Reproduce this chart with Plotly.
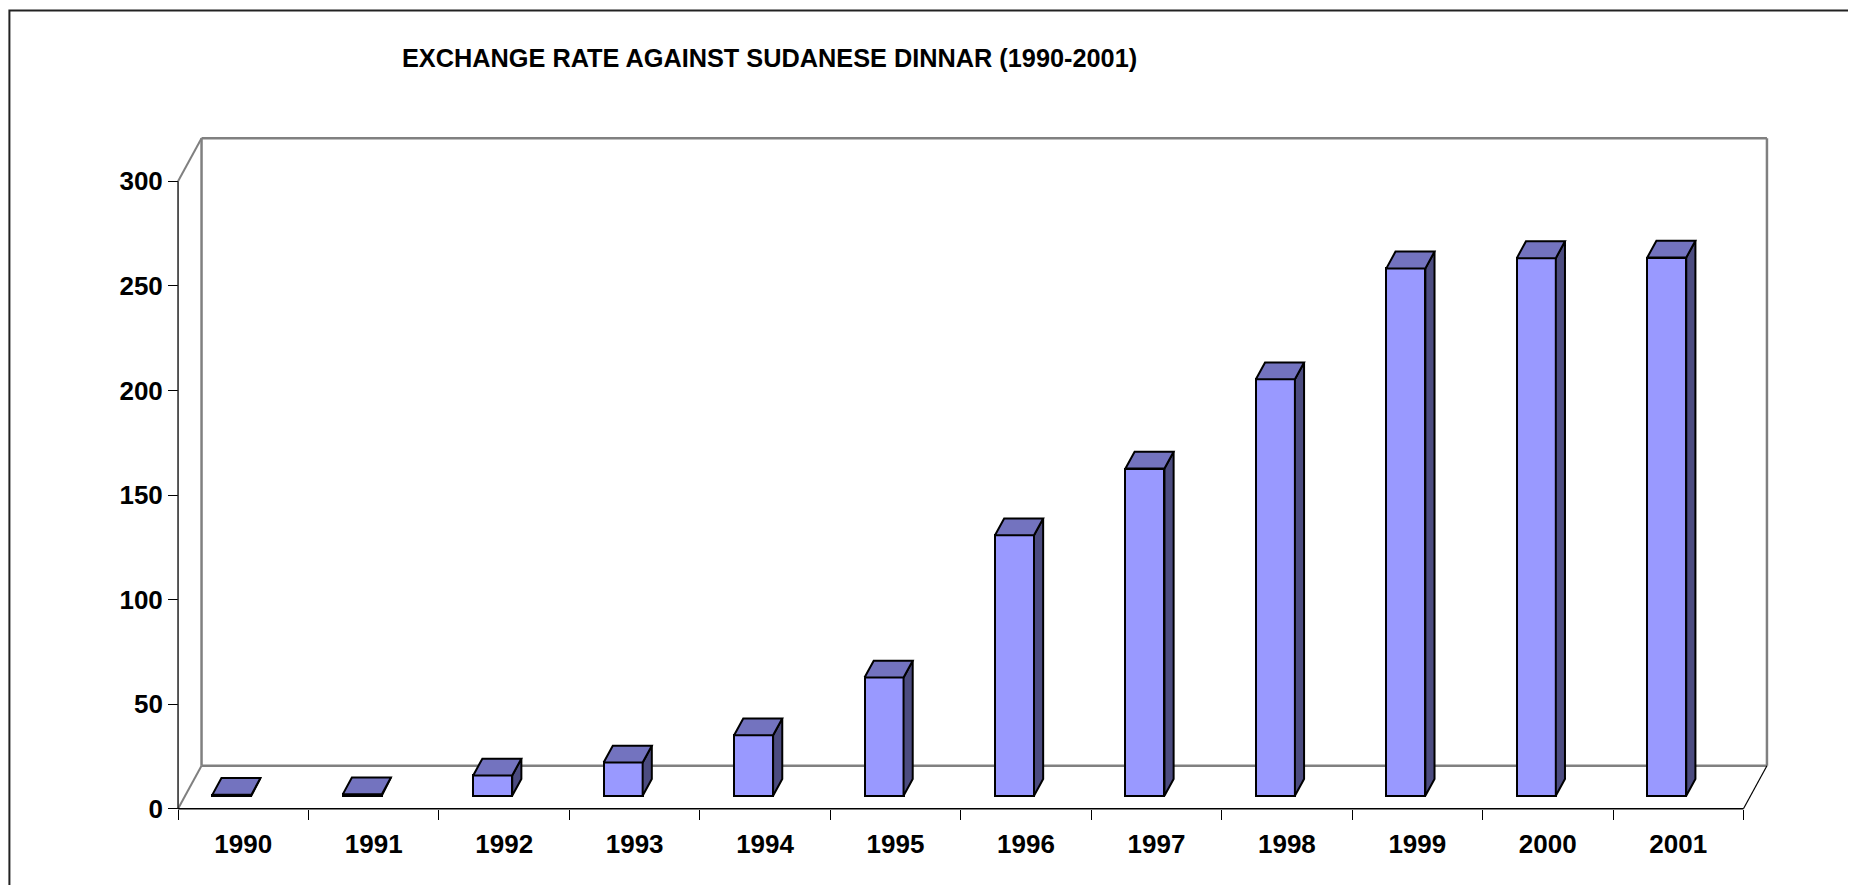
import plotly.graph_objects as go

# ---------------- data ----------------
years = ["1990", "1991", "1992", "1993", "1994", "1995",
         "1996", "1997", "1998", "1999", "2000", "2001"]
rates = [0.45, 0.69, 9.74, 15.93, 28.96, 56.6,
         124.6, 156.5, 199.2, 252.2, 257.1, 257.4]
y_ticks = [0, 50, 100, 150, 200, 250, 300]
title_text = "EXCHANGE RATE AGAINST SUDANESE DINNAR (1990-2001)"

# ---------------- geometry / style ----------------
W, H = 1856, 885
PAGE_OFF = 8                          # default body margin of the html page
X0_PX, Y0_PX = 177.7 - PAGE_OFF, 808.3 - PAGE_OFF   # front-left origin
CAT_PX = 130.5                        # px per category
UNIT_PX = 2.0887                      # px per value unit
DEPTH_PX = (23.5, -43.0)              # oblique depth vector in px
YMAX = 300
N = len(years)

DX = DEPTH_PX[0] / CAT_PX             # depth in data units
DY = -DEPTH_PX[1] / UNIT_PX

BAR_W = 0.299                          # front width (category units)
BAR_OFF = -0.088                       # front-face centre vs category centre
BAR_Z0 = 0.30                          # depth fraction of the front face
BAR_DEPTH = 0.39                       # bar depth as fraction of floor depth

FRONT = "#9999FF"
TOP = "#7373BF"
SIDE = "#4C4C80"
GRID_GRAY = "#808080"
FONT = "Liberation Sans, Arial, sans-serif"

PADX, PADY = 0.1, 3.0
xr = [-PADX, N + DX + PADX]
yr = [-PADY, YMAX + DY + PADY]
ml = X0_PX - PADX * CAT_PX
mr = W - (X0_PX + (N + DX + PADX) * CAT_PX)
mb = H - (Y0_PX + PADY * UNIT_PX)
mt = Y0_PX - (YMAX + DY + PADY) * UNIT_PX
pw = W - ml - mr
ph = H - mt - mb


def px2paper(px, py):
    px -= PAGE_OFF
    py -= PAGE_OFF
    return (px - ml) / pw, ((H - mb) - py) / ph


fig = go.Figure()

# front faces of the bars
base = BAR_Z0 * DY
centers = [i + 0.5 + BAR_OFF for i in range(N)]
fig.add_trace(go.Bar(
    x=centers, y=rates, base=base, width=BAR_W,
    marker=dict(color=FRONT, line=dict(color="black", width=2)),
    hoverinfo="skip", showlegend=False,
))

# top and side faces
bdx, bdy = BAR_DEPTH * DX, BAR_DEPTH * DY
tx, ty, sx, sy = [], [], [], []
for c, v in zip(centers, rates):
    xl, xr_ = c - BAR_W / 2, c + BAR_W / 2
    b, t = base, base + v
    tx += [xl, xr_, xr_ + bdx, xl + bdx, xl, None]
    ty += [t, t, t + bdy, t + bdy, t, None]
    sx += [xr_, xr_ + bdx, xr_ + bdx, xr_, xr_, None]
    sy += [b, b + bdy, t + bdy, t, b, None]
fig.add_trace(go.Scatter(x=sx, y=sy, mode="lines", fill="toself", fillcolor=SIDE,
                         line=dict(color="black", width=2), hoverinfo="skip",
                         showlegend=False))
fig.add_trace(go.Scatter(x=tx, y=ty, mode="lines", fill="toself", fillcolor=TOP,
                         line=dict(color="black", width=2), hoverinfo="skip",
                         showlegend=False))

# frame (walls / floor)
shapes = []
def seg(x0, y0, x1, y1, color, width, layer="below"):
    shapes.append(dict(type="line", xref="x", yref="y", x0=x0, y0=y0, x1=x1, y1=y1,
                       line=dict(color=color, width=width), layer=layer))

top = YMAX + DY
seg(DX, DY, DX, top, GRID_GRAY, 2.5)            # back-left vertical
seg(DX, top, N + DX, top, GRID_GRAY, 2.5)       # back top
seg(N + DX, top, N + DX, DY, GRID_GRAY, 2.5)    # back-right vertical
seg(DX, DY, N + DX, DY, GRID_GRAY, 2.5)         # floor back edge
seg(0, YMAX, DX, top, GRID_GRAY, 2)             # left wall top oblique
seg(0, 0, DX, DY, GRID_GRAY, 2)                 # left floor oblique
seg(N, 0, N + DX, DY, "black", 1.2)             # right floor oblique
seg(0, 0, 0, YMAX, "#222222", 1.5, "above")     # front y-axis line
seg(0, 0, N, 0, "black", 1.5, "above")          # front x-axis line

# outer border
bx0, by0 = px2paper(9, 11)
bx1, by1 = px2paper(W + 60, H + 60)
shapes.append(dict(type="rect", xref="paper", yref="paper", x0=bx0, y0=by0, x1=bx1, y1=by1,
                   line=dict(color="#222222", width=2), fillcolor="rgba(0,0,0,0)"))

tx_p, ty_p = px2paper(400, 59)
fig.update_layout(
    width=W, height=H,
    margin=dict(l=ml, r=mr, t=mt, b=mb, pad=0),
    paper_bgcolor="white", plot_bgcolor="white",
    shapes=shapes,
    showlegend=False,
    bargap=0,
    annotations=[dict(text="<b>" + title_text + "</b>", xref="paper", yref="paper",
                      x=tx_p, y=ty_p, xanchor="left", yanchor="middle", showarrow=False,
                      font=dict(family=FONT, size=25.3, color="black"))],
    xaxis=dict(
        range=xr, anchor="free", position=PADY / (yr[1] - yr[0]),
        tickmode="array", tickvals=[i + 0.5 for i in range(N)], ticktext=years,
        ticks="outside", ticklen=12, tickcolor="rgba(0,0,0,0)",
        minor=dict(tickmode="array", tickvals=list(range(N + 1)), ticks="outside",
                   ticklen=10, tickcolor="black", tickwidth=1.2),
        tickfont=dict(family=FONT, size=26, color="black", weight="bold"),
        showgrid=False, zeroline=False, showline=False, fixedrange=True,
    ),
    yaxis=dict(
        range=yr, anchor="free", position=PADX / (xr[1] - xr[0]),
        tickmode="array", tickvals=y_ticks,
        ticks="outside", ticklen=10, tickcolor="black", tickwidth=1.2,
        tickfont=dict(family=FONT, size=26, color="black", weight="bold"),
        showgrid=False, zeroline=False, showline=False, fixedrange=True,
    ),
)

fig.write_html("out.html")
